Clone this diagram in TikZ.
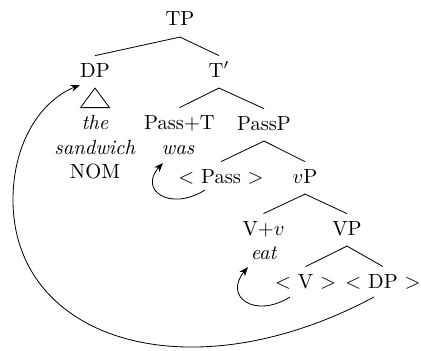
\documentclass[tikz,border=0pt]{standalone}
\usetikzlibrary{calc,arrows.meta}
\begin{document}
\begin{tikzpicture}[x=0.4878pt,y=-0.4878pt,
  tn/.style={inner sep=3.4pt,text height=6.83pt,text depth=1.8pt,anchor=base},
  lf/.style={inner sep=0pt,anchor=base},
  mv/.style={-{Stealth[length=4.5pt,width=3.4pt]}}]
\useasboundingbox (0,0) rectangle (421,350);
% nodes
\node[tn] (TP) at (180,26) {TP};
\node[tn] (DP) at (95,77) {DP};
\node[tn] (Tbar) at (219,77) {T$'$};
\node[tn] (the) at (95,129) {\textit{the}};
\node[lf] (sandwich) at (95,154) {\textit{sandwich}};
\node[lf] (nom) at (95,178) {NOM};
\node[tn] (passT) at (179.5,129) {Pass+T};
\node[lf] (was) at (178,154) {\textit{was}};
\node[tn] (PassP) at (264,130) {PassP};
\node[tn] (pass) at (221,183) {$<$ Pass $>$};
\node[tn] (vP) at (305,183) {$v$P};
\node[tn] (Vv) at (263.5,235) {V+$v$};
\node[lf] (eat) at (264,259) {\textit{eat}};
\node[tn] (VP) at (347,235) {VP};
\node[tn] (Vt) at (305.5,288) {$<$ V $>$};
\node[tn] (DPt) at (383,288) {$<$ DP $>$};
% tree edges
\draw (TP.south) -- (DP.north);
\draw (TP.south) -- (Tbar.north);
\draw (Tbar.south) -- (passT.north);
\draw (Tbar.south) -- (PassP.north);
\draw (PassP.south) -- (pass.north);
\draw (PassP.south) -- (vP.north);
\draw (vP.south) -- (Vv.north);
\draw (vP.south) -- (VP.north);
\draw (VP.south) -- (Vt.north);
\draw (VP.south) -- (DPt.north);
% roof
\draw (DP.south) -- ($(the.north)+(-14.5,0)$) -- ($(the.north)+(14.5,0)$) -- cycle;
% movement arrows
\draw[mv] ($(pass.base)+(-16,7)$) .. controls (170,212) and (138,190) .. ($(was.base)+(-15,9)$);
\draw[mv] ($(Vt.base)+(-15.5,9)$) .. controls (255,319) and (223,297) .. ($(eat.base)+(-16,8)$);
\draw[mv] ($(DPt.base)+(-9,9)$) .. controls (189,396) and (13,340) .. (13,200)
  .. controls (13,140) and (42.8,99.8) .. ($(DP.base)+(-15,8)$);
\end{tikzpicture}
\end{document}
